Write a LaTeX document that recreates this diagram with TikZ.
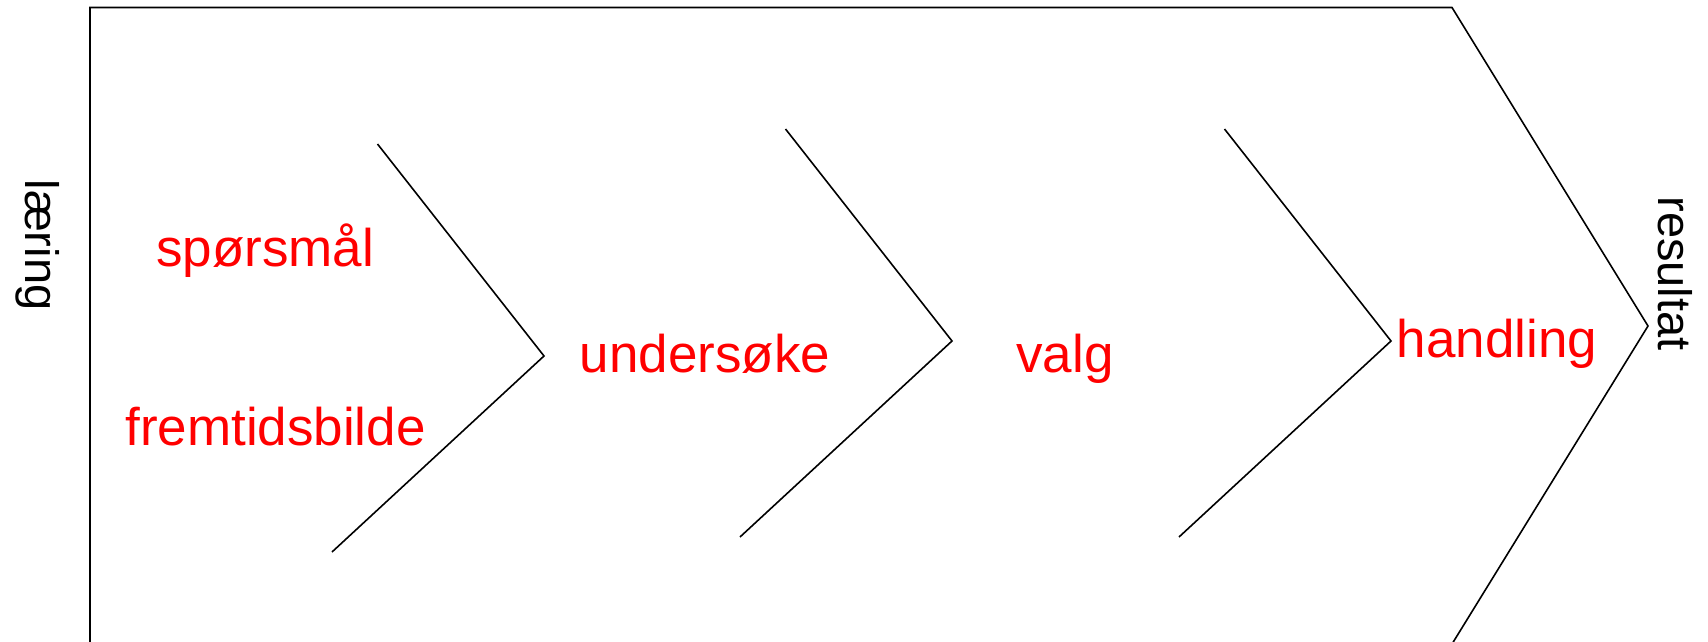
\documentclass[tikz,border=0pt]{standalone}
\usepackage{fontspec}
\setmainfont{Liberation Sans}
\begin{document}
\begin{tikzpicture}[x=1pt,y=-1pt,
  edge/.style={line width=1.6pt, line join=miter, black},
  phase/.style={text=red, font=\fontsize{53}{60}\selectfont, inner sep=0pt, anchor=base},
  sidelabel/.style={text=black, font=\fontsize{47}{54}\selectfont, inner sep=0pt, anchor=base, rotate=-90}]
  \useasboundingbox (0,0) rectangle (1708,642);

  % outer arrow frame (its bottom edge runs along the page edge)
  \coordinate (oTL) at (90,7.5);
  \coordinate (oTR) at (1452,7.5);
  \coordinate (oTip) at (1648,326);
  \coordinate (oBR) at (1452,644);
  \coordinate (oBL) at (90,644);
  \draw[edge] (oBL) -- (oTL) -- (oTR) -- (oTip) -- (oBR) -- cycle;

  % inner chevrons
  \coordinate (c1t) at (377.5,144);
  \coordinate (c1a) at (544,356);
  \coordinate (c1b) at (332,552);
  \coordinate (c2t) at (785.5,129);
  \coordinate (c2a) at (952,341);
  \coordinate (c2b) at (740,537);
  \coordinate (c3t) at (1224.5,129);
  \coordinate (c3a) at (1391,341);
  \coordinate (c3b) at (1179,537);
  \draw[edge] (c1t) -- (c1a) -- (c1b);
  \draw[edge] (c2t) -- (c2a) -- (c2b);
  \draw[edge] (c3t) -- (c3a) -- (c3b);

  % phase labels
  \node[phase] (q) at (265,266.7) {spørsmål};
  \node[phase] (f) at (275.5,445) {fremtidsbilde};
  \node[phase] (u) at (705,372.5) {undersøke};
  \node[phase] (v) at (1065,372.5) {valg};
  \node[phase] (h) at (1497,357.3) {handling};

  % side labels
  \node[sidelabel] (l) at (25.2,245) {læring};
  \node[sidelabel] (r) at (1658,273.5) {resultat};
\end{tikzpicture}
\end{document}
